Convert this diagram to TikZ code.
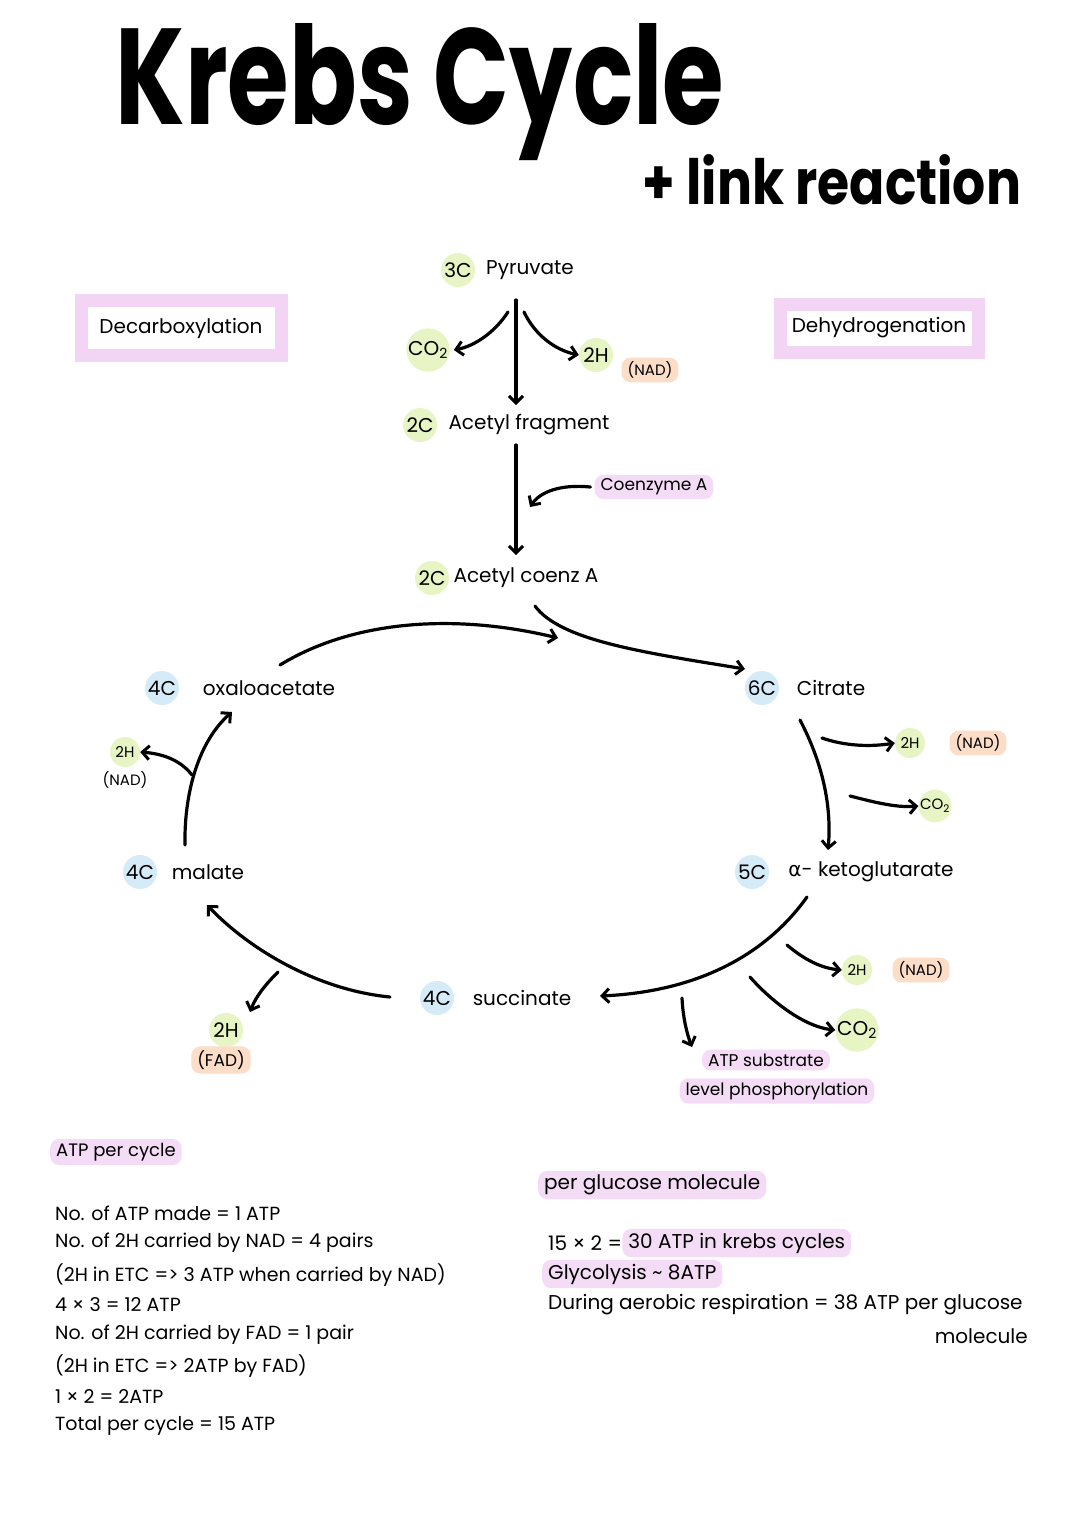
\documentclass[tikz,border=0pt]{standalone}
\usepackage{fontspec}
\setmainfont{Poppins}
\newfontfamily\greekf{DejaVu Sans}
\usetikzlibrary{arrows.meta}
\definecolor{hlgreen}{HTML}{E6F5C3}
\definecolor{hlorange}{HTML}{FBDDC8}
\definecolor{hlblue}{HTML}{D5EBF8}
\definecolor{hlpink}{HTML}{F5DCF6}
\definecolor{boxpink}{HTML}{F3D4F5}
\tikzset{
  lbl/.style={font=\fontsize{20}{24}\selectfont, inner sep=0pt},
  sml/.style={font=\fontsize{15}{18}\selectfont, inner sep=0pt},
  note/.style={font=\fontsize{19}{22}\selectfont, inner sep=0pt, anchor=west},
  rnote/.style={font=\fontsize{20}{24}\selectfont, inner sep=0pt, anchor=west},
  hlc/.style={circle, fill=#1, minimum size=34pt, inner sep=0pt, font=\fontsize{20}{24}\selectfont},
  hls/.style={circle, fill=#1, minimum size=30pt, inner sep=0pt, font=\fontsize{15}{18}\selectfont},
  band/.style={fill=#1, rounded corners=9pt, inner xsep=6pt, inner ysep=4pt},
  procbox/.style={draw=boxpink, line width=13pt, minimum width=200pt, font=\fontsize{20}{24}\selectfont},
  arr/.style={line width=3.2pt, line cap=round, -{Straight Barb[length=7pt,width=14pt,line width=3pt]}},
  titlef/.style={font=\fontsize{105}{110}\selectfont\bfseries, inner sep=0pt, xscale=0.95, yscale=1.3},
  subt/.style={font=\fontsize{52}{56}\selectfont\bfseries, inner sep=0pt, yscale=1.2},
}
\begin{document}
\begin{tikzpicture}[x=1pt,y=-1pt]
\useasboundingbox[fill=white] (0,0) rectangle (1080,1527);

% title
\node[titlef] (title) at (420,92) {Krebs Cycle};
\node[subt] (link) at (832,180) {+ link reaction};

% boxes
\node[procbox, minimum height=55pt] (decarb) at (181,328) {Decarboxylation};
\node[procbox, minimum height=48pt, minimum width=198pt] (dehyd) at (879,328) {Dehydrogenation};

% link reaction
\node[hlc=hlgreen] (pyrc) at (458,270) {3C};
\node[lbl] (pyr) at (530,270) {Pyruvate};
\node[hlc=hlgreen] (co2a) at (428,350) {CO\textsubscript{2}};
\node[hlc=hlgreen] (h2a) at (596,355) {2H};
\node[sml, band=hlorange] (nada) at (650,370) {(NAD)};
\node[hlc=hlgreen] (fragc) at (420,425) {2C};
\node[lbl] (frag) at (529,425) {Acetyl fragment};
\node[sml, band=hlpink, font=\fontsize{17}{20}\selectfont] (coa) at (654,487) {Coenzyme A};
\node[hlc=hlgreen] (acoac) at (432,578) {2C};
\node[lbl] (acoa) at (526,578) {Acetyl coenz A};

\draw[arr] (516,300) -- (516,405);
\coordinate (pb1) at (508,312);
\coordinate (pb2) at (524,312);
\draw[arr] (pb1) .. controls (495,332) and (475,346) .. ([xshift=4pt]co2a.east);
\draw[arr] (pb2) .. controls (535,335) and (555,350) .. (h2a.west);
\draw[arr] (516,445) -- (516,555);
\coordinate (coaend) at (530,507);
\draw[arr] ([xshift=-4pt]coa.west) .. controls (560,484) and (540,492) .. (coaend);

% cycle intermediates
\node[hlc=hlblue] (oxac) at (162,688) {4C};
\node[lbl] (oxa) at (269,688) {oxaloacetate};
\node[hlc=hlblue] (citc) at (762,688) {6C};
\node[lbl] (cit) at (831,688) {Citrate};
\node[hlc=hlblue] (akgc) at (752,872) {5C};
\node[lbl] (akg) at (871,872) {{\greekf α}- ketoglutarate};
\node[hlc=hlblue] (succc) at (437,998) {4C};
\node[lbl] (succ) at (522,998) {succinate};
\node[hlc=hlblue] (malc) at (140,872) {4C};
\node[lbl] (mal) at (208,872) {malate};

% side products
\node[hls=hlgreen] (h2b) at (910,743) {2H};
\node[sml, band=hlorange] (nadb) at (978,743) {(NAD)};
\node[hls=hlgreen] (co2b) at (935,806) {CO\textsubscript{2}};
\node[hls=hlgreen] (h2c) at (857,970) {2H};
\node[sml, band=hlorange] (nadc) at (921,970) {(NAD)};
\node[hlc=hlgreen] (co2c) at (857,1030) {CO\textsubscript{2}};
\node[sml, band=hlpink, font=\fontsize{17}{20}\selectfont] (atp1) at (766,1060) {ATP substrate};
\node[sml, band=hlpink, font=\fontsize{17}{20}\selectfont] (atp2) at (777,1091) {level phosphorylation};
\node[hlc=hlgreen] (h2d) at (226,1030) {2H};
\node[sml, band=hlorange, font=\fontsize{17}{20}\selectfont] (fad) at (221,1060) {(FAD)};
\node[hls=hlgreen] (h2e) at (125,752) {2H};
\node[sml] (nade) at (125,780) {(NAD)};

% cycle arrows
\coordinate (topend) at (558,638);
\draw[arr] (280,665) .. controls (350,622) and (450,612) .. (topend);
\draw[arr] (535,606) .. controls (560,640) and (640,652) .. (745,669);
\coordinate (cb) at (800,720);
\draw[arr] (cb) .. controls (822,762) and (832,805) .. (828,850);
\draw[arr] (822,738) .. controls (845,746) and (870,747) .. (h2b.west);
\draw[arr] (850,796) .. controls (870,801) and (895,808) .. (co2b.west);
\draw[arr] (807,897) .. controls (762,960) and (690,992) .. (600,996);
\draw[arr] (787,945) .. controls (800,956) and (818,968) .. (h2c.west);
\draw[arr] (750,977) .. controls (772,1002) and (805,1027) .. (co2c.west);
\draw[arr] (682,998) .. controls (683,1018) and (687,1034) .. (692,1047);
\draw[arr] (390,997) .. controls (318,990) and (250,950) .. (207,905);
\draw[arr] (278,972) .. controls (266,984) and (256,996) .. (250,1012);
\draw[arr] (185,845) .. controls (184,790) and (200,740) .. (232,712);
\draw[arr] (192,775) .. controls (182,762) and (166,754) .. (h2e.east);

% ATP per cycle
\node[note, band=hlpink, font=\fontsize{18}{21}\selectfont] (apc) at (50,1152) {ATP per cycle};
\node[note] (l1) at (55,1213) {No. of ATP made = 1 ATP};
\node[note] (l2) at (55,1243) {No. of 2H carried by NAD = 4 pairs};
\node[note] (l3) at (55,1275) {(2H in ETC => 3 ATP when carried by NAD)};
\node[note] (l4) at (55,1305) {4 × 3 = 12 ATP};
\node[note] (l5) at (55,1335) {No. of 2H carried by FAD = 1 pair};
\node[note] (l6) at (55,1366) {(2H in ETC => 2ATP by FAD)};
\node[note] (l7) at (55,1396) {1 × 2 = 2ATP};
\node[note] (l8) at (55,1426) {Total per cycle = 15 ATP};

% per glucose
\node[rnote, band=hlpink] (pgm) at (538,1185) {per glucose molecule};
\node[rnote] (r1a) at (548,1243) {15 × 2 = };
\node[rnote, band=hlpink, anchor=west] (r1b) at (r1a.east) {30 ATP in krebs cycles};
\node[rnote, band=hlpink] (r2) at (542,1274) {Glycolysis \textasciitilde{} 8ATP};
\node[rnote] (r3) at (548,1305) {During aerobic respiration = 38 ATP per glucose};
\node[rnote, anchor=east] (r4) at (1028,1336) {molecule};
\end{tikzpicture}
\end{document}
